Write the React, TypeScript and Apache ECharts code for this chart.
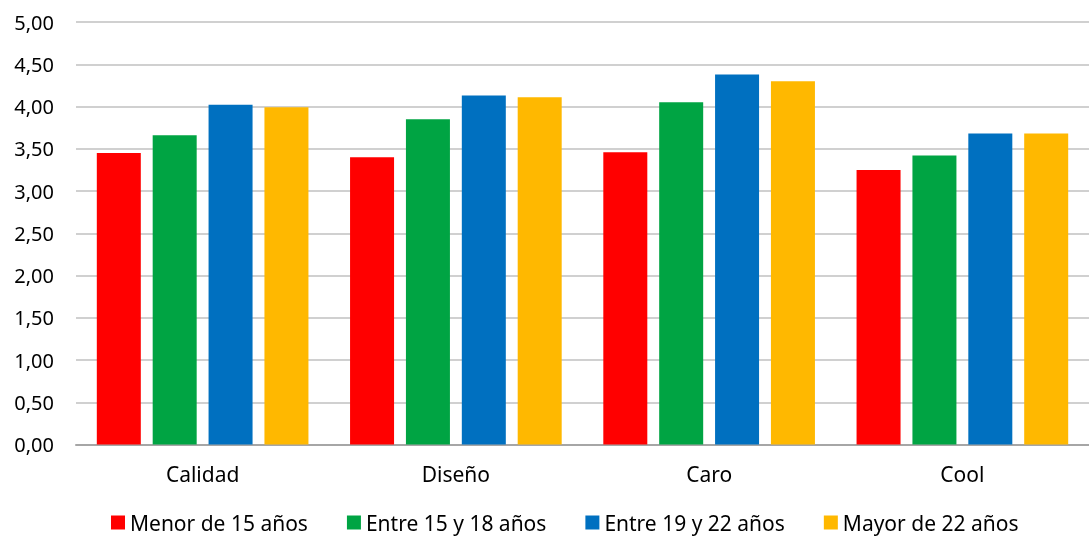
import React, { useEffect, useRef } from "react";
import * as echarts from "echarts";

const categories = ["Calidad", "Diseño", "Caro", "Cool"];
const seriesNames = ["Menor de 15 años", "Entre 15 y 18 años", "Entre 19 y 22 años", "Mayor de 22 años"];
const menor15 = [3.45, 3.4, 3.46, 3.25];
const entre15y18 = [3.66, 3.85, 4.05, 3.42];
const entre19y22 = [4.02, 4.13, 4.38, 3.68];
const mayor22 = [3.99, 4.11, 4.3, 3.68];
const colors = ["#FF0000", "#00A443", "#0070C0", "#FFB800"];

export default function App() {
  const ref = useRef<HTMLDivElement>(null);
  useEffect(() => {
    if (!ref.current) return;
    const chart = echarts.init(ref.current, null, { renderer: "svg" });
    const font = "'Noto Sans', sans-serif";
    const data = [menor15, entre15y18, entre19y22, mayor22];
    chart.setOption({
      animation: false,
      textStyle: { fontFamily: font },
      grid: { left: 76, right: 0, top: 22, bottom: 95.5 },
      legend: {
        bottom: 2,
        left: 106,
        itemWidth: 14,
        itemHeight: 14,
        itemGap: 39,
        icon: "rect",
        textStyle: { fontSize: 21, color: "#000", fontFamily: font },
        data: seriesNames,
      },
      xAxis: {
        type: "category",
        data: categories,
        axisTick: { show: false },
        axisLine: { lineStyle: { color: "#A6A6A6", width: 2 } },
        axisLabel: { fontSize: 21, color: "#000", margin: 19, fontFamily: font },
      },
      yAxis: {
        type: "value",
        min: 0,
        max: 5,
        interval: 0.5,
        axisLabel: {
          fontSize: 20,
          color: "#000",
          margin: 22,
          fontFamily: font,
          formatter: (v: number) => v.toFixed(2).replace(".", ","),
        },
        splitLine: { lineStyle: { color: "#D0D0D0", width: 2 } },
      },
      series: seriesNames.map((name, i) => ({
        name,
        type: "bar",
        data: data[i],
        barWidth: 44,
        barGap: "27%",
        itemStyle: { color: colors[i] },
      })),
    });
    return () => chart.dispose();
  }, []);
  return <div ref={ref} style={{ position: "fixed", left: 0, top: 0, width: 1089, height: 540 }} />;
}
